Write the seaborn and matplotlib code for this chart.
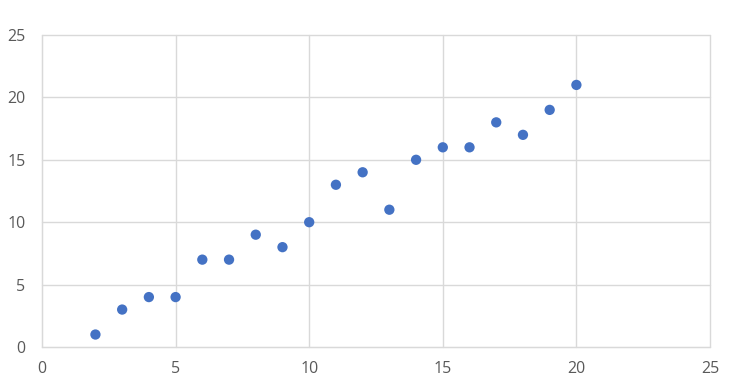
import matplotlib
matplotlib.use("Agg")
import matplotlib.pyplot as plt
import seaborn as sns
import pandas as pd

x_vals = [2, 3, 4, 5, 6, 7, 8, 9, 10, 11, 12, 13, 14, 15, 16, 17, 18, 19, 20]
y_vals = [1, 3, 4, 4, 7, 7, 9, 8, 10, 13, 14, 11, 15, 16, 16, 18, 17, 19, 21]
x_ticks = [0, 5, 10, 15, 20, 25]
y_ticks = [0, 5, 10, 15, 20, 25]

sns.set_style("white")
plt.rcParams['font.family'] = ['Open Sans', 'DejaVu Sans']

df = pd.DataFrame({"x": x_vals, "y": y_vals})
fig = plt.figure(figsize=(7.35, 3.89), dpi=100)
ax = fig.add_axes([42/735, 1-347/389, (710-42)/735, (347-35)/389])
sns.scatterplot(data=df, x="x", y="y", ax=ax, color="#4472C4", s=55, edgecolor="none", zorder=3)
ax.set_xlim(0, 25)
ax.set_ylim(0, 25)
ax.set_xticks(x_ticks)
ax.set_yticks(y_ticks)
ax.grid(True, color="#D9D9D9", linewidth=1)
for gl in ax.get_xgridlines() + ax.get_ygridlines():
    gl.set_clip_on(False)
for s in ax.spines.values():
    s.set_visible(False)
ax.spines['left'].set_visible(True)
ax.spines['bottom'].set_visible(True)
ax.spines['left'].set_color("#D9D9D9")
ax.spines['bottom'].set_color("#D9D9D9")
ax.tick_params(axis='both', length=0, labelsize=11.5, labelcolor="#595959")
ax.tick_params(axis='x', pad=10)
ax.tick_params(axis='y', pad=12)
ax.set_xlabel("")
ax.set_ylabel("")
fig.savefig("out.png", dpi=100)
